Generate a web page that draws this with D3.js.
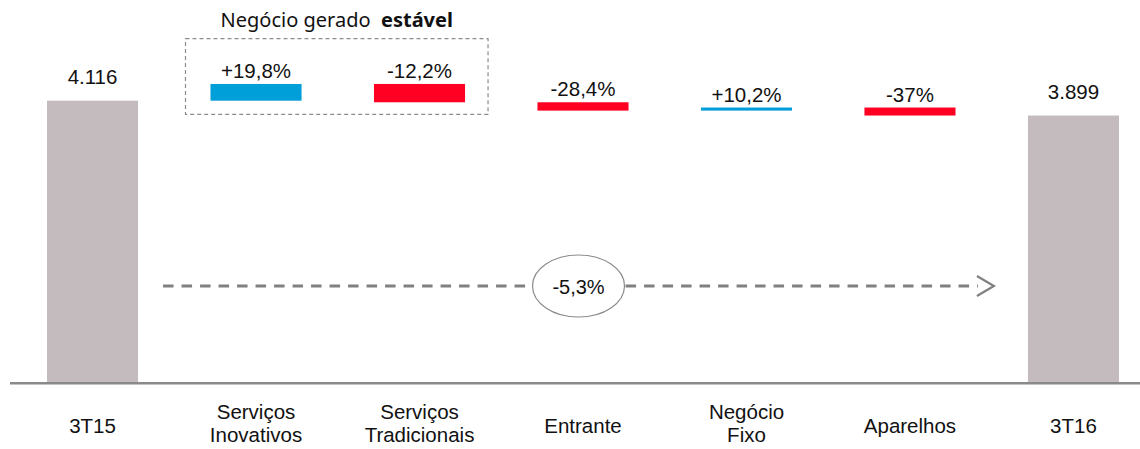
<!DOCTYPE html>
<html>
<head>
<meta charset="utf-8">
<script src="https://cdn.jsdelivr.net/npm/d3@7"></script>
<style>
  html, body { margin: 0; padding: 0; background: #fff; }
  svg { display: block; }
</style>
</head>
<body>
<svg id="chart" width="1140" height="449"></svg>
<script>
// ---- data ----
const categories = ["3T15", "Serviços Inovativos", "Serviços Tradicionais", "Entrante", "Negócio Fixo", "Aparelhos", "3T16"];
const categoryLines = [["3T15"], ["Serviços", "Inovativos"], ["Serviços", "Tradicionais"], ["Entrante"], ["Negócio", "Fixo"], ["Aparelhos"], ["3T16"]];
const startTotal = 4116;
const endTotal = 3899;
const deltas = [245, -268, -122, 45, -117];          // change per step
const deltaLabels = ["+19,8%", "-12,2%", "-28,4%", "+10,2%", "-37%"];
const totalLabels = ["4.116", "3.899"];
const groupTitle = ["Negócio gerado", "estável"];

// ---- build waterfall rows ----
const rows = [];
rows.push({cat: categories[0], lo: 0, hi: startTotal, type: "total", label: totalLabels[0]});
let level = startTotal;
deltas.forEach((d, i) => {
  const a = level, b = level + d;
  rows.push({cat: categories[i + 1], lo: Math.min(a, b), hi: Math.max(a, b), type: d >= 0 ? "up" : "down", label: deltaLabels[i]});
  level = b;
});
rows.push({cat: categories[6], lo: 0, hi: endTotal, type: "total", label: totalLabels[1]});

const colors = {total: "#C4BBBF", up: "#009FDA", down: "#FF0022"};
const font = "'Liberation Sans', Arial, sans-serif";

const svg = d3.select("#chart");
const baseY = 382;
const x = d3.scaleBand().domain(categories).range([47, 1119]).paddingInner(0.443).paddingOuter(0);
const y = d3.scaleLinear().domain([0, 5000]).range([baseY, baseY - 5000 * (281.3 / 4116)]);

// bars
svg.append("g").selectAll("rect").data(rows).join("rect")
  .attr("x", d => x(d.cat))
  .attr("width", x.bandwidth())
  .attr("y", d => y(d.hi))
  .attr("height", d => y(d.lo) - y(d.hi))
  .attr("fill", d => colors[d.type]);

// value labels
svg.append("g").selectAll("text").data(rows).join("text")
  .attr("x", d => x(d.cat) + x.bandwidth() / 2)
  .attr("y", d => y(d.hi) - (d.type === "total" ? 17 : 6))
  .attr("text-anchor", "middle")
  .attr("font-family", font)
  .attr("font-size", 20.5)
  .attr("fill", "#111")
  .text(d => d.label);

// baseline axis
const xAxis = d3.axisBottom(x).tickSize(0).tickFormat("");
const axisG = svg.append("g").attr("transform", `translate(0,${baseY + 1.2})`).call(xAxis);
axisG.select(".domain").remove();
svg.append("line").attr("x1", 10).attr("x2", 1140).attr("y1", baseY + 1.2).attr("y2", baseY + 1.2)
  .attr("stroke", "#8A8A8A").attr("stroke-width", 2.5);

// category labels
const catG = svg.append("g");
categories.forEach((c, i) => {
  const lines = categoryLines[i];
  const cx = x(c) + x.bandwidth() / 2;
  const t = catG.append("text")
    .attr("text-anchor", "middle")
    .attr("font-family", font)
    .attr("font-size", 20.5)
    .attr("fill", "#111");
  if (lines.length === 1) {
    t.append("tspan").attr("x", cx).attr("y", 433).text(lines[0]);
  } else {
    t.append("tspan").attr("x", cx).attr("y", 419).text(lines[0]);
    t.append("tspan").attr("x", cx).attr("y", 442).text(lines[1]);
  }
});

// dashed group box around the two service categories
const bx0 = x(categories[1]) - 25;
const bx1 = x(categories[2]) + x.bandwidth() + 23;
svg.append("rect")
  .attr("x", bx0).attr("y", 38.7)
  .attr("width", bx1 - bx0).attr("height", 114.3 - 38.7)
  .attr("fill", "none").attr("stroke", "#8C8C8C").attr("stroke-width", 1.2)
  .attr("stroke-dasharray", "4,3");

const title = svg.append("text")
  .attr("x", (bx0 + bx1) / 2).attr("y", 27)
  .attr("text-anchor", "middle")
  .attr("font-family", "'Noto Sans', 'Open Sans', sans-serif")
  .attr("font-size", 20)
  .attr("fill", "#111");
title.append("tspan").text(groupTitle[0] + "\u00A0\u00A0");
title.append("tspan").attr("font-weight", "bold").text(groupTitle[1]);

// overall change arrow
const ax0 = x(categories[0]) + x.bandwidth() + 25;
const ax1 = x(categories[6]) - 34;
const ay = 286;
svg.append("line")
  .attr("x1", ax0).attr("x2", ax1 - 16).attr("y1", ay).attr("y2", ay)
  .attr("stroke", "#808080").attr("stroke-width", 2.8)
  .attr("stroke-dasharray", "10.5,8");
svg.append("path")
  .attr("d", `M${ax1 - 17},${ay - 10} L${ax1},${ay} L${ax1 - 17},${ay + 10}`)
  .attr("fill", "none").attr("stroke", "#808080").attr("stroke-width", 2.2);

const ex = (ax0 + ax1) / 2;
svg.append("ellipse")
  .attr("cx", ex).attr("cy", ay).attr("rx", 46).attr("ry", 31)
  .attr("fill", "#fff").attr("stroke", "#8A8A8A").attr("stroke-width", 1.2);
const pct = (endTotal / startTotal - 1) * 100;
svg.append("text")
  .attr("x", ex).attr("y", ay + 7.5)
  .attr("text-anchor", "middle")
  .attr("font-family", font)
  .attr("font-size", 20)
  .attr("fill", "#111")
  .text(d3.format(".1f")(pct).replace(".", ",").replace("−", "-") + "%");
</script>
</body>
</html>
